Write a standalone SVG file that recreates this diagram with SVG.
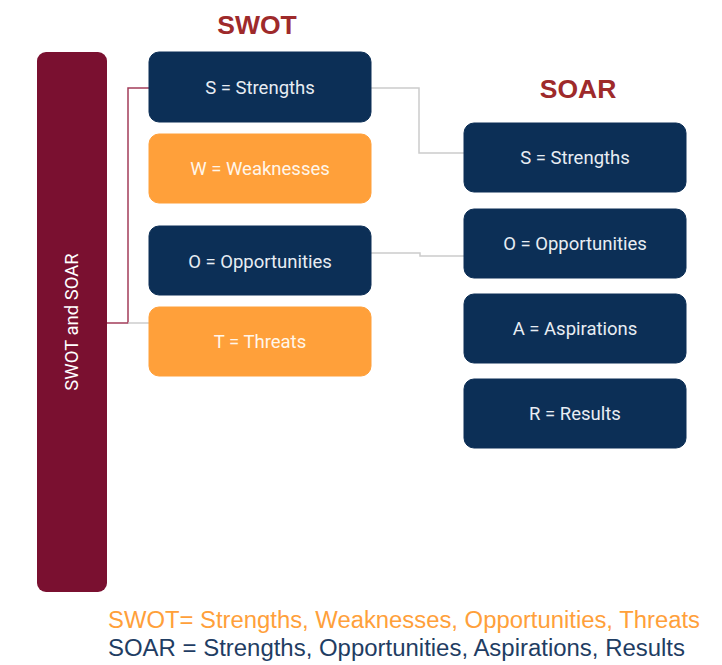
<svg xmlns="http://www.w3.org/2000/svg" width="722" height="665" viewBox="0 0 722 665">
<style>
.navy{fill:#0c2f56;stroke:#0c2f56}
.orange{fill:#ffa03a;stroke:#ffa03a}
.lbl{font-family:Roboto,"Liberation Sans",sans-serif;font-size:18.5px;fill:#e8edf3;text-anchor:middle;dominant-baseline:central}
.olbl{fill:#fff6ea}
.title{font-family:"Liberation Sans",Arial,sans-serif;font-size:26.5px;font-weight:bold;fill:#9e2a2b;text-anchor:middle}
.leg{font-family:"Liberation Sans",Arial,sans-serif;font-size:23px}
</style>
<rect width="722" height="665" fill="#ffffff"/>
<text class="title" x="257" y="34">SWOT</text>
<text class="title" x="578" y="98">SOAR</text>
<g id="bar">
<rect x="37" y="52" width="70" height="540" rx="9" fill="#7a1030"/>
<text x="72" y="322" transform="rotate(-90 72 322)" font-family="Roboto,'Liberation Sans',sans-serif" font-size="18.5" fill="#ffffff" text-anchor="middle" dominant-baseline="central">SWOT and SOAR</text>
</g>
<g id="connectors" fill="none">
<path d="M107,323 H128 V88 H149" stroke="#a33d5a" stroke-width="1.5"/>
<path d="M128,323 H149" stroke="#cccccc" stroke-width="1.5"/>
<path d="M371,88 H419 V153 H464" stroke="#cccccc" stroke-width="1.5"/>
<path d="M371,253 H420 V256 H464" stroke="#cccccc" stroke-width="1.5"/>
</g>
<g id="swot-s"><rect class="navy" x="149" y="52" width="222" height="70" rx="10"/><text class="lbl" x="260" y="88">S = Strengths</text></g>
<g id="swot-w"><rect class="orange" x="149" y="134" width="222" height="69" rx="10"/><text class="lbl olbl" x="260" y="169">W = Weaknesses</text></g>
<g id="swot-o"><rect class="navy" x="149" y="226" width="222" height="69" rx="10"/><text class="lbl" x="260" y="262">O = Opportunities</text></g>
<g id="swot-t"><rect class="orange" x="149" y="307" width="222" height="69" rx="10"/><text class="lbl olbl" x="260" y="342">T = Threats</text></g>
<g id="soar-s"><rect class="navy" x="464" y="123" width="222" height="69" rx="10"/><text class="lbl" x="575" y="158">S = Strengths</text></g>
<g id="soar-o"><rect class="navy" x="464" y="209" width="222" height="69" rx="10"/><text class="lbl" x="575" y="244">O = Opportunities</text></g>
<g id="soar-a"><rect class="navy" x="464" y="294" width="222" height="69" rx="10"/><text class="lbl" x="575" y="329">A = Aspirations</text></g>
<g id="soar-r"><rect class="navy" x="464" y="379" width="222" height="69" rx="10"/><text class="lbl" x="575" y="414">R = Results</text></g>
<text class="leg" x="108" y="628" fill="#ffa03a" textLength="592" lengthAdjust="spacingAndGlyphs">SWOT= Strengths, Weaknesses, Opportunities, Threats</text>
<text class="leg" x="108" y="656" fill="#1f3d63" textLength="577" lengthAdjust="spacingAndGlyphs">SOAR = Strengths, Opportunities, Aspirations, Results</text>
</svg>
